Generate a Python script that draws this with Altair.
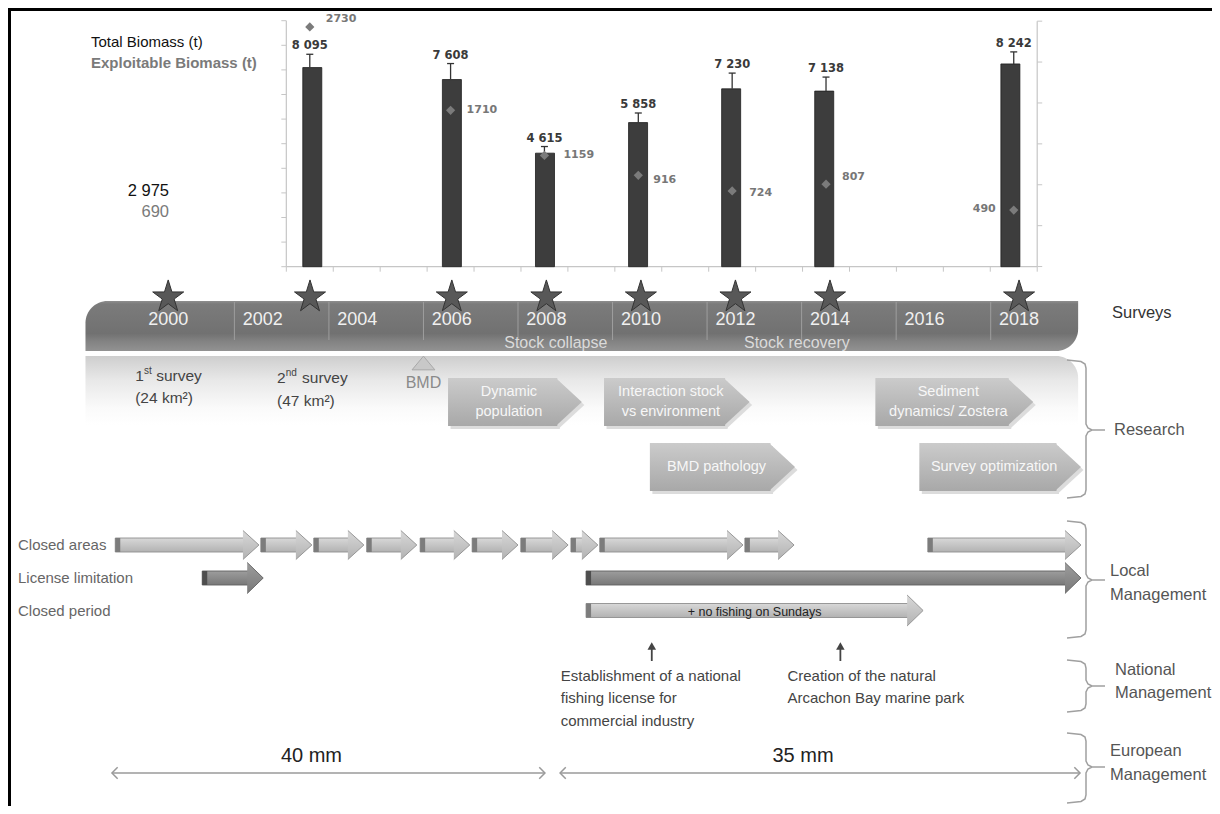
import altair as alt
import pandas as pd

# ------------------------------------------------------------------ chart values
BAR_YEARS = [2003, 2006, 2008, 2010, 2012, 2014, 2018]
TOTAL_BIOMASS = [8095, 7608, 4615, 5858, 7230, 7138, 8242]
TOTAL_ERROR = [540, 650, 270, 390, 640, 570, 490]
TOTAL_LABELS = ["8 095", "7 608", "4 615", "5 858", "7 230", "7 138", "8 242"]
EXPLOITABLE_BIOMASS = [2730, 1710, 1159, 916, 724, 807, 490]
FIRST_SURVEY_YEAR = 2000
FIRST_SURVEY_TOTAL = 2975
FIRST_SURVEY_LABELS = ["2 975", "690"]
LEGEND_LABELS = ["Total Biomass (t)", "Exploitable Biomass (t)"]

SURVEY_YEARS = [2000, 2003, 2006, 2008, 2010, 2012, 2014, 2018]
TIMELINE_YEARS = [2000, 2002, 2004, 2006, 2008, 2010, 2012, 2014, 2016, 2018]
TIMELINE_SPAN = [1998.25, 2019.25]
DIVIDER_YEARS = [2001.4, 2003.4, 2005.4, 2007.4, 2009.4, 2011.4, 2013.4, 2015.4, 2017.4]
PHASE_LABELS = ["Stock collapse", "Stock recovery"]
PHASE_CENTERS = [2008.2, 2013.3]
NOTE_SURVEY_YEARS = [2000, 2003]
NOTE_ORDINALS = ["1", "2"]
NOTE_SUFFIXES = ["st", "nd"]
NOTE_AREAS = ["(24 km²)", "(47 km²)"]
BMD_YEAR = 2005.4

RESEARCH_TOPICS = ["Dynamic\npopulation", "Interaction stock\nvs environment", "BMD pathology",
                   "Sediment\ndynamics/ Zostera", "Survey optimization"]
RESEARCH_START = [2005.92, 2009.22, 2010.19, 2014.96, 2015.89]
RESEARCH_END = [2008.75, 2012.30, 2013.26, 2018.30, 2019.31]
RESEARCH_ROW = [0, 0, 1, 0, 1]

MANAGEMENT_ROWS = ["Closed areas", "License limitation", "Closed period"]
CLOSED_AREAS_START = [1998.88, 2001.96, 2003.08, 2004.20, 2005.33, 2006.43, 2007.46, 2008.52, 2009.13, 2012.20, 2016.07]
CLOSED_AREAS_END = [2001.92, 2003.04, 2004.14, 2005.26, 2006.38, 2007.40, 2008.46, 2009.09, 2012.16, 2013.24, 2019.31]
LICENSE_START = [2000.72, 2008.84]
LICENSE_END = [2002.01, 2019.31]
CLOSED_PERIOD_START = [2008.84]
CLOSED_PERIOD_END = [2015.97]
CLOSED_PERIOD_NOTE = "+ no fishing on Sundays"

NATIONAL_YEARS = [2010.23, 2014.22]
NATIONAL_TEXT = ["Establishment of a national\nfishing license for\ncommercial industry",
                 "Creation of the natural\nArcachon Bay marine park"]

EU_START = [1998.81, 2008.29]
EU_END = [2007.97, 2019.29]
EU_LABELS = ["40 mm", "35 mm"]

GROUP_LABELS = ["Surveys", "Research", "Local\nManagement", "National\nManagement", "European\nManagement"]

# ------------------------------------------------------------------ layout (page pixels)
W, H = 1204, 798
M = 8
BAR_X2000, BAR_PPY = 169.0, 46.93      # bar chart: px of year 2000, px per year
TL_X2000, TL_PPY = 168.2, 47.27        # timeline: px of year 2000, px per year
BIO_Y0, BIO_PPT = 266.7, 0.0246        # total biomass axis
EXP_Y0, EXP_PPT = 250.2, 0.0818        # exploitable biomass axis

XB = alt.Scale(domain=[2000 + (M - BAR_X2000) / BAR_PPY, 2000 + (M + W - BAR_X2000) / BAR_PPY], nice=False, zero=False)
XT = alt.Scale(domain=[2000 + (M - TL_X2000) / TL_PPY, 2000 + (M + W - TL_X2000) / TL_PPY], nice=False, zero=False)
XP = alt.Scale(domain=[M, M + W], nice=False, zero=False)
YB = alt.Scale(domain=[(BIO_Y0 - (M + H)) / BIO_PPT, (BIO_Y0 - M) / BIO_PPT], nice=False, zero=False)
YE = alt.Scale(domain=[(EXP_Y0 - (M + H)) / EXP_PPT, (EXP_Y0 - M) / EXP_PPT], nice=False, zero=False)
YP = alt.Scale(domain=[M, M + H], reverse=True, nice=False, zero=False)

FONT = "Liberation Sans"
NUMFONT = "DejaVu Sans"


def X(f, s):
    return alt.X(f + ":Q", scale=s, axis=None)


def Y(f, s):
    return alt.Y(f + ":Q", scale=s, axis=None)


def grad(stops):
    return {"gradient": "linear", "x1": 0, "y1": 0, "x2": 0, "y2": 1,
            "stops": [{"offset": o, "color": c} for o, c in stops]}


def head_path(half_len, half_h, closed=True):
    a = half_len / half_h
    return f"M{-a:.4f},-1L{a:.4f},0L{-a:.4f},1" + ("Z" if closed else "")


def first_line_y(center, text, lh):
    # Vega places the first line of a multi-line text at y; shift so the block is centred
    return center - text.count("\n") * lh / 2


layers = []
one = pd.DataFrame({"a": [0]})

# frame (top and left edges)
layers.append(alt.Chart(one).mark_rule(color="black", strokeWidth=3).encode(
    x=alt.value(0), x2=alt.value(W), y=alt.value(1.5)))
layers.append(alt.Chart(one).mark_rule(color="black", strokeWidth=3).encode(
    x=alt.value(1.5), y=alt.value(0), y2=alt.value(H)))

# ------------------------------------------------------------------ bar chart
bars = pd.DataFrame({"year": BAR_YEARS, "total": TOTAL_BIOMASS, "err": TOTAL_ERROR,
                     "label": TOTAL_LABELS, "expl": EXPLOITABLE_BIOMASS})
bars["zero"] = 0
bars["top"] = bars["total"] + bars["err"]
bars["cap0"] = bars["year"] - 3.5 / BAR_PPY
bars["cap1"] = bars["year"] + 3.5 / BAR_PPY

AX = "#c6c6c6"
left_ticks = pd.DataFrame({"v": list(range(0, 10001, 1000))})
left_ticks["x0"] = 2002.5
left_ticks["x1"] = 2002.5 - 5 / BAR_PPY
bottom_ticks = pd.DataFrame({"x": [2002.5 + i for i in range(17)]})
bottom_ticks["y0"] = 0
bottom_ticks["y1"] = -5 / BIO_PPT
right_ticks = pd.DataFrame({"v": [-200 + 500 * i for i in range(7)]})
right_ticks["x0"] = 2018.5
right_ticks["x1"] = 2018.5 + 5 / BAR_PPY
axes_lines = pd.DataFrame({"x": [2002.5], "x2": [2018.5], "v0": [0], "v1": [10000], "e0": [-200], "e1": [2800]})

layers.append(alt.Chart(axes_lines).mark_rule(color=AX, strokeWidth=1.2).encode(
    x=X("x", XB), y=Y("v0", YB), y2="v1:Q"))
layers.append(alt.Chart(axes_lines).mark_rule(color=AX, strokeWidth=1.2).encode(
    x=X("x", XB), x2="x2:Q", y=Y("v0", YB)))
layers.append(alt.Chart(axes_lines).mark_rule(color=AX, strokeWidth=1.2).encode(
    x=X("x2", XB), y=Y("e0", YE), y2="e1:Q"))
layers.append(alt.Chart(left_ticks).mark_rule(color=AX, strokeWidth=1).encode(
    x=X("x0", XB), x2="x1:Q", y=Y("v", YB)))
layers.append(alt.Chart(bottom_ticks).mark_rule(color=AX, strokeWidth=1).encode(
    x=X("x", XB), y=Y("y0", YB), y2="y1:Q"))
layers.append(alt.Chart(right_ticks).mark_rule(color=AX, strokeWidth=1).encode(
    x=X("x0", XB), x2="x1:Q", y=Y("v", YE)))

layers.append(alt.Chart(bars).mark_bar(size=19, fill="#3d3d3d", stroke="#1e1e1e", strokeWidth=0.8).encode(
    x=X("year", XB), y=Y("total", YB), y2="zero:Q"))
layers.append(alt.Chart(bars).mark_rule(color="#333333", strokeWidth=1.3).encode(
    x=X("year", XB), y=Y("total", YB), y2="top:Q"))
layers.append(alt.Chart(bars).mark_rule(color="#333333", strokeWidth=1.3).encode(
    x=X("cap0", XB), x2="cap1:Q", y=Y("top", YB)))
layers.append(alt.Chart(bars).mark_text(font=NUMFONT, fontWeight="bold", fontSize=11.5, color="#3a3a3a",
                                        dy=-8, baseline="middle").encode(
    x=X("year", XB), y=Y("top", YB), text="label:N"))
layers.append(alt.Chart(bars).mark_point(shape="diamond", filled=True, size=85, color="#7b7b7b", opacity=1).encode(
    x=X("year", XB), y=Y("expl", YE)))

EXPL_LABEL_DX = [16, 16, 19, 15, 17, 16, -18]
EXPL_LABEL_DY = [-8, 0, 0, 5, 2, -7, -1]
el = bars[["year", "expl"]].copy()
el["label"] = [str(v) for v in EXPLOITABLE_BIOMASS]
el["lx"] = el["year"] + pd.Series(EXPL_LABEL_DX) / BAR_PPY
el["ly"] = el["expl"] - pd.Series(EXPL_LABEL_DY) / EXP_PPT
el["right"] = [dx < 0 for dx in EXPL_LABEL_DX]
for is_right in (False, True):
    layers.append(alt.Chart(el[el["right"] == is_right]).mark_text(
        font=NUMFONT, fontWeight="bold", fontSize=11, color="#777777",
        align="right" if is_right else "left", baseline="middle").encode(
        x=X("lx", XB), y=Y("ly", YE), text="label:N"))

first = pd.DataFrame({"year": [FIRST_SURVEY_YEAR], "v": [FIRST_SURVEY_TOTAL],
                      "t": [FIRST_SURVEY_LABELS[0]], "e": [FIRST_SURVEY_LABELS[1]]})
layers.append(alt.Chart(first).mark_text(font=FONT, fontSize=16.5, color="#111111", align="right",
                                         baseline="middle", dy=-3).encode(
    x=X("year", XB), y=Y("v", YB), text="t:N"))
layers.append(alt.Chart(first).mark_text(font=FONT, fontSize=16.5, color="#7a7a7a", align="right",
                                         baseline="middle", dy=18).encode(
    x=X("year", XB), y=Y("v", YB), text="e:N"))

legend = pd.DataFrame({"x": [91, 91], "y": [42, 63], "t": LEGEND_LABELS})
layers.append(alt.Chart(legend.iloc[[0]]).mark_text(font=FONT, fontSize=15, color="#111111", align="left",
                                                    baseline="middle").encode(
    x=X("x", XP), y=Y("y", YP), text="t:N"))
layers.append(alt.Chart(legend.iloc[[1]]).mark_text(font=FONT, fontSize=15, fontWeight="bold", color="#7a7a7a",
                                                    align="left", baseline="middle").encode(
    x=X("x", XP), y=Y("y", YP), text="t:N"))

# ------------------------------------------------------------------ timeline band
BAND_TOP, BAND_BOT = 301, 351
band = pd.DataFrame({"x0": [TIMELINE_SPAN[0]], "x1": [TIMELINE_SPAN[1]], "y0": [BAND_TOP], "y1": [BAND_BOT],
                     "r0": [356], "r1": [425]})
layers.append(alt.Chart(band).mark_rect(
    cornerRadiusTopRight=22,
    fill=grad([(0, "#cecece"), (0.35, "#e8e8e8"), (0.75, "#fafafa"), (1, "#ffffff")])).encode(
    x=X("x0", XT), x2="x1:Q", y=Y("r0", YP), y2="r1:Q"))
layers.append(alt.Chart(band).mark_rect(
    cornerRadiusTopLeft=22, cornerRadiusBottomRight=22,
    fill=grad([(0, "#8e8e8e"), (0.06, "#7b7b7b"), (0.65, "#717171"), (0.8, "#828282"), (1, "#929292")])).encode(
    x=X("x0", XT), x2="x1:Q", y=Y("y0", YP), y2="y1:Q"))

div = pd.DataFrame({"x": DIVIDER_YEARS, "y0": 302, "y1": 340})
layers.append(alt.Chart(div).mark_rule(color="#9e9e9e", strokeWidth=1).encode(
    x=X("x", XT), y=Y("y0", YP), y2="y1:Q"))

yl = pd.DataFrame({"x": TIMELINE_YEARS, "t": [str(y) for y in TIMELINE_YEARS], "y": 320})
layers.append(alt.Chart(yl).mark_text(font=FONT, fontSize=18, color="#f0f0f0", baseline="middle").encode(
    x=X("x", XT), y=Y("y", YP), text="t:N"))

ph = pd.DataFrame({"x": PHASE_CENTERS, "t": PHASE_LABELS, "y": 343})
layers.append(alt.Chart(ph).mark_text(font=FONT, fontSize=16, color="#dadada", baseline="middle").encode(
    x=X("x", XT), y=Y("y", YP), text="t:N"))

STAR = ("M0,-1.08L0.235,-0.32L0.98,-0.32L0.375,0.13L0.6,0.87L0,0.42L-0.6,0.87L-0.375,0.13"
        "L-0.98,-0.32L-0.235,-0.32Z")
stars = pd.DataFrame({"x": SURVEY_YEARS, "y": 297})
layers.append(alt.Chart(stars).mark_point(shape=STAR, filled=True, fill="#585858", stroke="#333333",
                                          strokeWidth=1, size=1000, opacity=1).encode(
    x=X("x", XT), y=Y("y", YP)))

# survey notes with superscripts
notes = pd.DataFrame({"yr": NOTE_SURVEY_YEARS, "o": NOTE_ORDINALS, "s": NOTE_SUFFIXES, "a": NOTE_AREAS})
NOTE_DX = -33
NOTE_Y1 = [376, 378]
NOTE_Y2 = [398, 400.5]
NOTE_WORD_DX = [21, 25]
notes["x0"] = notes["yr"] + NOTE_DX / TL_PPY
notes["xs"] = notes["x0"] + 8.8 / TL_PPY
notes["xw"] = notes["x0"] + pd.Series(NOTE_WORD_DX) / TL_PPY
notes["y1"] = NOTE_Y1
notes["y2"] = NOTE_Y2
notes["w"] = "survey"
NOTE_COL = "#444444"
layers.append(alt.Chart(notes).mark_text(font=FONT, fontSize=15.5, color=NOTE_COL, align="left",
                                         baseline="middle").encode(x=X("x0", XT), y=Y("y1", YP), text="o:N"))
layers.append(alt.Chart(notes).mark_text(font=FONT, fontSize=10, color=NOTE_COL, align="left",
                                         baseline="middle", dy=-5).encode(x=X("xs", XT), y=Y("y1", YP), text="s:N"))
layers.append(alt.Chart(notes).mark_text(font=FONT, fontSize=15.5, color=NOTE_COL, align="left",
                                         baseline="middle").encode(x=X("xw", XT), y=Y("y1", YP), text="w:N"))
layers.append(alt.Chart(notes).mark_text(font=FONT, fontSize=15.5, color=NOTE_COL, align="left",
                                         baseline="middle").encode(x=X("x0", XT), y=Y("y2", YP), text="a:N"))

bmd = pd.DataFrame({"x": [BMD_YEAR], "yt": [363], "yl": [383], "t": ["BMD"]})
layers.append(alt.Chart(bmd).mark_point(shape="M0,-0.6L1,0.6L-1,0.6Z", filled=True, fill="#c8c8c8",
                                        stroke="#a8a8a8", strokeWidth=1, size=520, opacity=1).encode(
    x=X("x", XT), y=Y("yt", YP)))
layers.append(alt.Chart(bmd).mark_text(font=FONT, fontSize=16, color="#8a8a8a", baseline="middle").encode(
    x=X("x", XT), y=Y("yl", YP), text="t:N"))

# ------------------------------------------------------------------ research arrows (body + head)
RES_ROW_Y = [402, 467]
RES_HALF = 24
RES_HEAD = 26
RES_LH = 20
res = pd.DataFrame({"t": RESEARCH_TOPICS, "s": RESEARCH_START, "e": RESEARCH_END,
                    "yc": [RES_ROW_Y[r] for r in RESEARCH_ROW]})
res["xb"] = res["e"] - (RES_HEAD - 1.5) / TL_PPY
res["xh"] = res["e"] - (RES_HEAD / 2) / TL_PPY
res["y0"] = res["yc"] - RES_HALF
res["y1"] = res["yc"] + RES_HALF
res["tx"] = (res["s"] + res["e"]) / 2 - 6 / TL_PPY
res["ty"] = [first_line_y(c, t, RES_LH) for c, t in zip(res["yc"], res["t"])]
sh = res.copy()
for c in ("s", "xb", "xh"):
    sh[c] = sh[c] + 2.5 / TL_PPY
for c in ("yc", "y0", "y1"):
    sh[c] = sh[c] + 3
RES_HEAD_SHAPE = head_path(RES_HEAD / 2, RES_HALF)
RES_HEAD_SIZE = (2 * RES_HALF) ** 2
RES_FILL = grad([(0, "#cbcbcb"), (1, "#a8a8a8")])
layers.append(alt.Chart(sh).mark_rect(fill="#dcdcdc").encode(
    x=X("s", XT), x2="xb:Q", y=Y("y0", YP), y2="y1:Q"))
layers.append(alt.Chart(sh).mark_point(shape=RES_HEAD_SHAPE, filled=True, fill="#dcdcdc", size=RES_HEAD_SIZE,
                                       opacity=1, strokeWidth=0).encode(x=X("xh", XT), y=Y("yc", YP)))
layers.append(alt.Chart(res).mark_rect(fill=RES_FILL).encode(
    x=X("s", XT), x2="xb:Q", y=Y("y0", YP), y2="y1:Q"))
layers.append(alt.Chart(res).mark_point(shape=RES_HEAD_SHAPE, filled=True, fill=RES_FILL, size=RES_HEAD_SIZE,
                                        opacity=1, strokeWidth=0).encode(x=X("xh", XT), y=Y("yc", YP)))
layers.append(alt.Chart(res).mark_text(font=FONT, fontSize=14.5, color="#f7f7f7", baseline="middle",
                                       lineBreak="\n", lineHeight=RES_LH).encode(
    x=X("tx", XT), y=Y("ty", YP), text="t:N"))

# ------------------------------------------------------------------ local management arrows
MG_ROW_Y = [545, 578, 610.5]
BODY_HALF = 7
HEAD_LEN = 16


def arrow_frame(starts, ends, yc, head_half):
    d = pd.DataFrame({"s": starts, "e": ends})
    d["yc"] = yc
    d["xb"] = d["e"] - (HEAD_LEN - 1.5) / TL_PPY
    d["xh"] = d["e"] - (HEAD_LEN / 2) / TL_PPY
    d["y0"] = yc - BODY_HALF
    d["y1"] = yc + BODY_HALF
    d["cap"] = d["s"] + 5 / TL_PPY
    d["hh"] = head_half
    return d


arrow_sets = [
    (arrow_frame(CLOSED_AREAS_START, CLOSED_AREAS_END, MG_ROW_Y[0], 14.5),
     grad([(0, "#d8d8d8"), (1, "#b2b2b2")]), "#8e8e8e", "#7c7c7c"),
    (arrow_frame(LICENSE_START, LICENSE_END, MG_ROW_Y[1], 15.5),
     grad([(0, "#9d9d9d"), (1, "#787878")]), "#606060", "#4e4e4e"),
    (arrow_frame(CLOSED_PERIOD_START, CLOSED_PERIOD_END, MG_ROW_Y[2], 15.5),
     grad([(0, "#d8d8d8"), (1, "#b2b2b2")]), "#8e8e8e", "#7c7c7c"),
]
for d, fill, stroke, capcol in arrow_sets:
    hh = float(d["hh"].iloc[0])
    layers.append(alt.Chart(d).mark_rect(fill=fill, stroke=stroke, strokeWidth=0.9).encode(
        x=X("s", XT), x2="xb:Q", y=Y("y0", YP), y2="y1:Q"))
    layers.append(alt.Chart(d).mark_rect(fill=capcol).encode(
        x=X("s", XT), x2="cap:Q", y=Y("y0", YP), y2="y1:Q"))
    layers.append(alt.Chart(d).mark_point(shape=head_path(HEAD_LEN / 2, hh, closed=False), filled=True,
                                          fill=fill, stroke=stroke, strokeWidth=0.9, size=(2 * hh) ** 2,
                                          opacity=1).encode(x=X("xh", XT), y=Y("yc", YP)))

ml = pd.DataFrame({"t": MANAGEMENT_ROWS, "x": 18, "y": MG_ROW_Y})
layers.append(alt.Chart(ml).mark_text(font=FONT, fontSize=15, color="#666666", align="left",
                                      baseline="middle").encode(x=X("x", XP), y=Y("y", YP), text="t:N"))
cpn = pd.DataFrame({"t": [CLOSED_PERIOD_NOTE],
                    "x": [(CLOSED_PERIOD_START[0] + CLOSED_PERIOD_END[0]) / 2], "y": [MG_ROW_Y[2] + 1]})
layers.append(alt.Chart(cpn).mark_text(font=FONT, fontSize=12.5, color="#222222", baseline="middle").encode(
    x=X("x", XT), y=Y("y", YP), text="t:N"))

# ------------------------------------------------------------------ national management
NAT_TEXT_DX = [-91, -53]
NAT_LINE_Y0 = 676
NAT_LH = 22.3
nat = pd.DataFrame({"x": NATIONAL_YEARS, "t": NATIONAL_TEXT})
nat["head"] = 646
nat["s0"] = 649
nat["s1"] = 661
nat["tx"] = nat["x"] + pd.Series(NAT_TEXT_DX) / TL_PPY
nat["ty"] = NAT_LINE_Y0
layers.append(alt.Chart(nat).mark_rule(color="#444444", strokeWidth=1.8).encode(
    x=X("x", XT), y=Y("s0", YP), y2="s1:Q"))
layers.append(alt.Chart(nat).mark_point(shape="M0,-0.8L0.9,0.8L-0.9,0.8Z", filled=True, color="#444444",
                                        size=90, opacity=1).encode(x=X("x", XT), y=Y("head", YP)))
layers.append(alt.Chart(nat).mark_text(font=FONT, fontSize=15, color="#444444", align="left", baseline="middle",
                                       lineBreak="\n", lineHeight=NAT_LH).encode(
    x=X("tx", XT), y=Y("ty", YP), text="t:N"))

# ------------------------------------------------------------------ european management
EU_Y = 773
EU_LABEL_Y = 756
eu = pd.DataFrame({"s": EU_START, "e": EU_END, "t": EU_LABELS})
eu["y"] = EU_Y
eu["ly"] = EU_LABEL_Y
eu["lx"] = (eu["s"] + eu["e"]) / 2 - 17 / TL_PPY
layers.append(alt.Chart(eu).mark_rule(color="#9a9a9a", strokeWidth=1.5).encode(
    x=X("s", XT), x2="e:Q", y=Y("y", YP)))
layers.append(alt.Chart(eu).mark_point(shape="M1,-1L0,0L1,1", filled=False, color="#9a9a9a", strokeWidth=1.5,
                                       size=130, opacity=1).encode(x=X("s", XT), y=Y("y", YP)))
layers.append(alt.Chart(eu).mark_point(shape="M-1,-1L0,0L-1,1", filled=False, color="#9a9a9a", strokeWidth=1.5,
                                       size=130, opacity=1).encode(x=X("e", XT), y=Y("y", YP)))
layers.append(alt.Chart(eu).mark_text(font=FONT, fontSize=20, color="#222222", baseline="middle").encode(
    x=X("lx", XT), y=Y("ly", YP), text="t:N"))

# ------------------------------------------------------------------ right-hand group labels and braces
GROUP_X = [1112, 1114, 1110, 1115, 1110]
GROUP_Y = [313, 430, 583, 681.5, 763]      # block centres
GROUP_COL = ["#333333", "#555555", "#555555", "#555555", "#555555"]
GL_LH = 23.3
for t, x, y, c in zip(GROUP_LABELS, GROUP_X, GROUP_Y, GROUP_COL):
    layers.append(alt.Chart(pd.DataFrame({"t": [t], "x": [x], "y": [first_line_y(y, t, GL_LH)]})).mark_text(
        font=FONT, fontSize=16.5, color=c, align="left", baseline="middle", lineBreak="\n",
        lineHeight=GL_LH).encode(x=X("x", XP), y=Y("y", YP), text="t:N"))

BRACES = [(360, 430, 498), (521, 580, 638), (660, 686, 712), (733, 767, 803)]
BX_END, BX_V, BX_TIP = 1067, 1086, 1105
brace_rows = []
for b, (top, mid, bot) in enumerate(BRACES):
    pts = [(BX_END, top), (BX_V - 5, top + 1.5), (BX_V - 1, top + 4), (BX_V, top + 8), (BX_V, mid - 6),
           (BX_V + 2, mid - 2), (BX_V + 6, mid), (BX_TIP, mid), (BX_V + 6, mid), (BX_V + 2, mid + 2),
           (BX_V, mid + 6), (BX_V, bot - 8), (BX_V - 1, bot - 4), (BX_V - 5, bot - 1.5), (BX_END, bot)]
    for k, (x, y) in enumerate(pts):
        brace_rows.append({"b": b, "k": k, "x": x, "y": y})
layers.append(alt.Chart(pd.DataFrame(brace_rows)).mark_line(color="#a0a0a0", strokeWidth=1.5).encode(
    x=X("x", XP), y=Y("y", YP), detail="b:N", order="k:Q"))

chart = alt.layer(*layers).resolve_scale(x="independent", y="independent").properties(
    width=W, height=H, padding=0, autosize=alt.AutoSizeParams(type="none"), background="white"
).configure_view(stroke=None)

chart.save("out.html", embed_options={"renderer": "svg", "actions": False})
